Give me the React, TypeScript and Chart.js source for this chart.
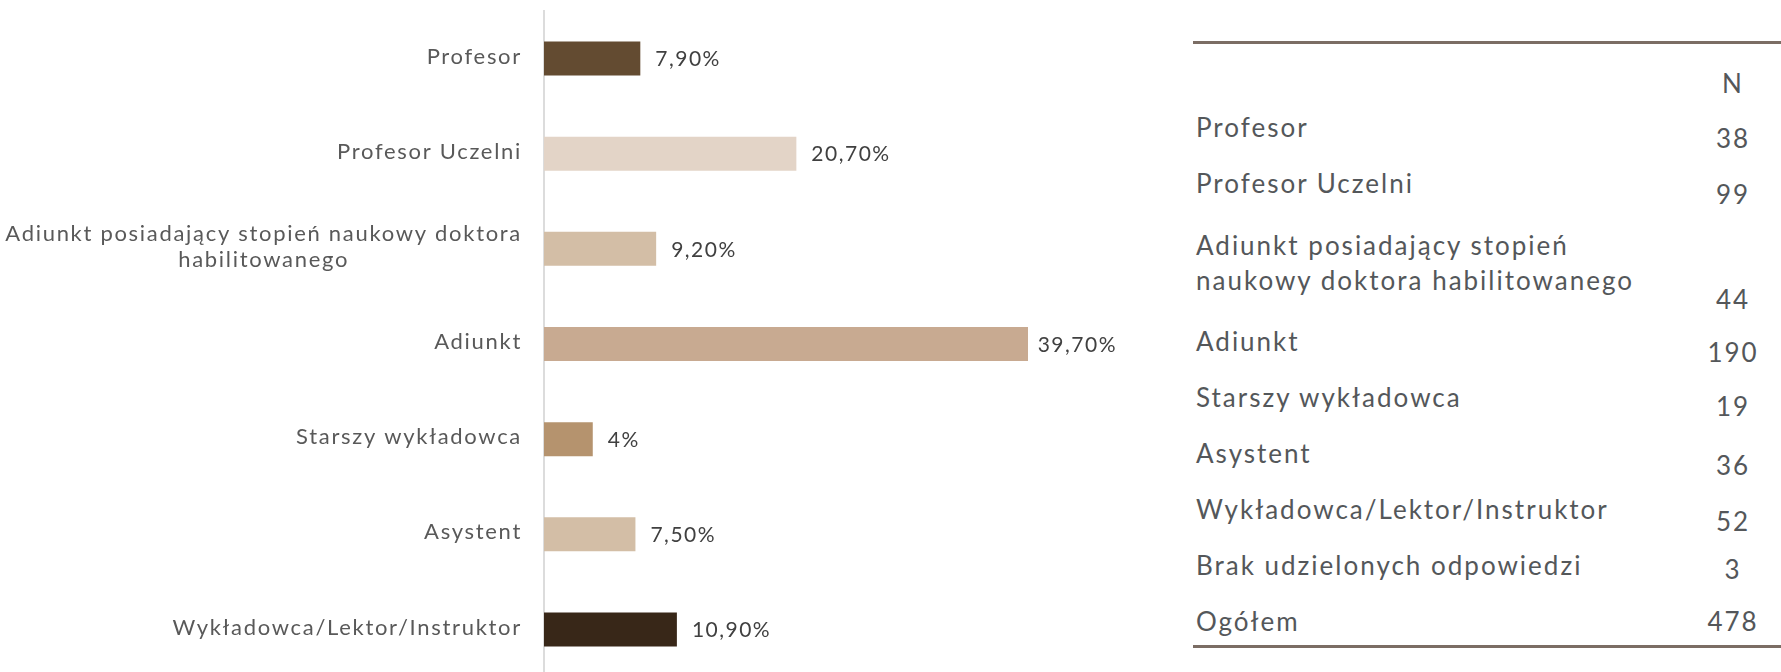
import React, { useEffect, useRef } from "react";
import { Chart, registerables } from "chart.js";

Chart.register(...registerables);

// ---- data ----
const categories: (string | string[])[] = [
  "Profesor",
  "Profesor Uczelni",
  ["Adiunkt posiadający stopień naukowy doktora", "habilitowanego"],
  "Adiunkt",
  "Starszy wykładowca",
  "Asystent",
  "Wykładowca/Lektor/Instruktor",
];
const percentValues = [7.9, 20.7, 9.2, 39.7, 4, 7.5, 10.9];
const barColors = ["#634b31", "#e3d4c7", "#d3bea6", "#c8aa91", "#b5936e", "#d3bea6", "#382718"];

const tableHeader = "N";
const tableLabels: string[][] = [
  ["Profesor"],
  ["Profesor Uczelni"],
  ["Adiunkt posiadający stopień", "naukowy doktora habilitowanego"],
  ["Adiunkt"],
  ["Starszy wykładowca"],
  ["Asystent"],
  ["Wykładowca/Lektor/Instruktor"],
  ["Brak udzielonych odpowiedzi"],
  ["Ogółem"],
];
const tableCounts = [38, 99, 44, 190, 19, 36, 52, 3, 478];

// ---- layout-only styles ----
const numberDrops = [11, 11, 54, 11, 9, 12, 12, 4, 0];
const FONT = "Lato, 'Open Sans', sans-serif";

const fmtPct = (v: number) =>
  (Number.isInteger(v) ? String(v) : v.toFixed(2)).replace(".", ",") + "%";

const labelsPlugin = {
  id: "customLabels",
  afterDatasetsDraw(chart: any) {
    const { ctx, chartArea, scales } = chart;
    const yScale = scales.y;
    ctx.save();
    ctx.font = `400 22px ${FONT}`;
    (ctx as any).letterSpacing = "1.7px";
    ctx.fillStyle = "#595959";
    ctx.textBaseline = "middle";
    ctx.textAlign = "center";
    categories.forEach((cat, i) => {
      const lines = Array.isArray(cat) ? cat : [cat];
      const yc = yScale.getPixelForValue(i);
      const widest = Math.max(...lines.map((l) => ctx.measureText(l).width));
      const cx = chartArea.left - 22 - widest / 2;
      lines.forEach((l, j) => {
        ctx.fillText(l, cx, yc - 2 + (j - (lines.length - 1) / 2) * 26);
      });
    });
    ctx.fillStyle = "#404040";
    ctx.textAlign = "left";
    ctx.font = `400 21px ${FONT}`;
    (ctx as any).letterSpacing = "1.5px";
    const meta = chart.getDatasetMeta(0);
    meta.data.forEach((bar: any, i: number) => {
      const txt = fmtPct(percentValues[i]);
      const w = ctx.measureText(txt).width;
      let tx = bar.x + 15;
      if (tx + w > chartArea.right) tx = chartArea.right - w;
      ctx.fillText(txt, tx, bar.y + 1);
    });
    ctx.restore();
  },
};

function BarChart() {
  const ref = useRef<HTMLCanvasElement>(null);
  useEffect(() => {
    if (!ref.current) return;
    const chart = new Chart(ref.current, {
      type: "bar",
      data: {
        labels: categories as any,
        datasets: [
          {
            data: percentValues,
            backgroundColor: barColors,
            borderWidth: 0,
            categoryPercentage: 1,
            barPercentage: 0.357,
          },
        ],
      },
      options: {
        indexAxis: "y",
        animation: false,
        responsive: false,
        devicePixelRatio: 1,
        layout: { padding: { top: 11, bottom: 3, left: 0, right: 13 } },
        plugins: { legend: { display: false }, tooltip: { enabled: false } },
        scales: {
          x: { display: false, min: 0, max: 47 },
          y: {
            grid: { display: false },
            border: { display: true, color: "#dcdcdc", width: 2 },
            ticks: { display: false },
            afterFit: (scale: any) => {
              scale.width = 544;
            },
          },
        },
      },
      plugins: [labelsPlugin],
    });
    return () => chart.destroy();
  }, []);
  return (
    <canvas
      ref={ref}
      width={1130}
      height={680}
      style={{ position: "absolute", left: 0, top: 0, width: 1130, height: 680 }}
    />
  );
}

function CountTable() {
  const textStyle: React.CSSProperties = {
    fontFamily: FONT,
    fontSize: 26,
    letterSpacing: "2px",
    color: "#54575a",
    lineHeight: "35px",
    whiteSpace: "nowrap",
  };
  return (
    <div style={{ position: "absolute", left: 1193, top: 41, width: 588 }}>
      <div style={{ height: 3, background: "#7b6d64" }} />
      <div style={{ display: "flex", height: 65.5, alignItems: "flex-end" }}>
        <div style={{ flex: 1 }} />
        <div style={{ ...textStyle, width: 96, textAlign: "center", marginBottom: 9 }}>
          {tableHeader}
        </div>
      </div>
      {tableLabels.map((lines, i) => {
        const isDouble = lines.length > 1;
        return (
          <div
            key={i}
            style={{
              position: "relative",
              height: isDouble ? 96 : 56,
              marginTop: isDouble ? 6 : 0,
            }}
          >
            <div style={{ ...textStyle, position: "absolute", left: 3, top: 0 }}>
              {lines.map((l, j) => (
                <div key={j}>{l}</div>
              ))}
            </div>
            <div
              style={{
                ...textStyle,
                position: "absolute",
                right: 0,
                width: 96,
                textAlign: "center",
                top: numberDrops[i],
              }}
            >
              {tableCounts[i]}
            </div>
          </div>
        );
      })}
    </div>
  );
}

function BottomRule() {
  return (
    <div
      style={{ position: "absolute", left: 1193, top: 645, width: 588, height: 3, background: "#7b6d64" }}
    />
  );
}

export default function App() {
  return (
    <div
      style={{
        position: "fixed",
        left: 0,
        top: 0,
        width: 1781,
        height: 672,
        overflow: "hidden",
        background: "#ffffff",
      }}
    >
      <BarChart />
      <CountTable />
      <BottomRule />
    </div>
  );
}
